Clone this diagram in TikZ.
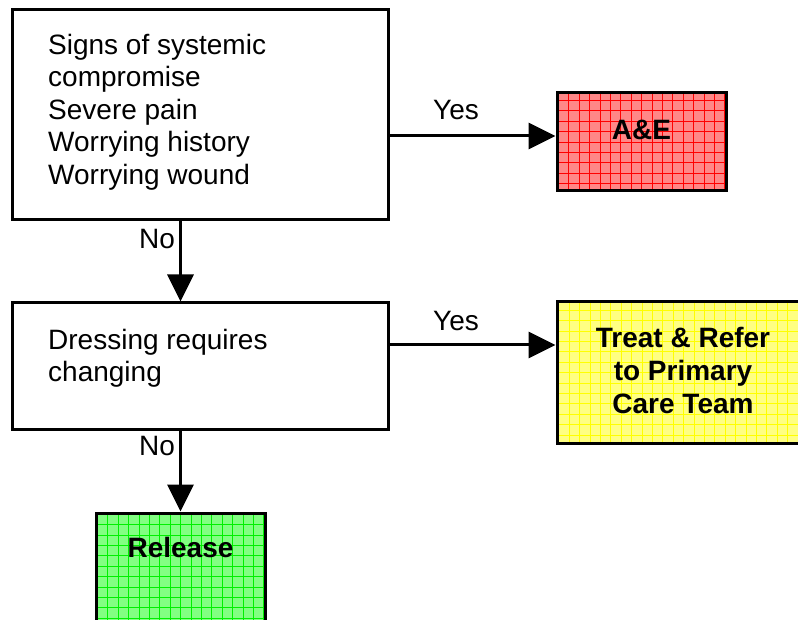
\documentclass[tikz,border=0pt]{standalone}
\usepackage{fontspec}
\setmainfont{Liberation Sans}
\usetikzlibrary{arrows.meta,calc}
\definecolor{aefill}{RGB}{255,135,135}
\definecolor{aegrid}{RGB}{255,0,0}
\definecolor{trfill}{RGB}{255,255,130}
\definecolor{trgrid}{RGB}{255,255,0}
\definecolor{relfill}{RGB}{130,255,130}
\definecolor{relgrid}{RGB}{0,240,0}
\begin{document}
\begin{tikzpicture}[x=1pt,y=-1pt,
  font=\fontsize{28}{32.5}\selectfont,
  plainbox/.style={draw=black,line width=3pt,inner sep=0pt,fill=white},
  gridbox/.style n args={2}{draw=black,line width=3pt,inner sep=0pt,fill=#1,
     path picture={\draw[#2,line width=0.7pt,step=10.4pt]
       ([xshift=-0.5pt,yshift=0.5pt]path picture bounding box.south west) grid
       (path picture bounding box.north east);}},
  txt/.style={inner sep=0pt,align=left,anchor=north west},
  btxt/.style={inner sep=0pt,align=center,font=\fontsize{28}{33}\selectfont\bfseries},
  lbl/.style={inner sep=0pt},
  arr/.style={line width=3pt,-{Triangle[length=27pt,width=26pt]}}]
\useasboundingbox (0,0) rectangle (798,620);
% boxes
\node[plainbox,minimum width=376pt,minimum height=210pt] (b1) at (200,115) {};
\node[plainbox,minimum width=376pt,minimum height=126pt] (b2) at (200,366) {};
\node[gridbox={aefill}{aegrid},minimum width=169pt,minimum height=98pt] (ae) at (641.5,142) {};
\node[gridbox={trfill}{trgrid},minimum width=253pt,minimum height=141pt] (tr) at (683.5,372.5) {};
\node[gridbox={relfill}{relgrid},minimum width=169pt,minimum height=127pt] (rel) at (180.5,576.5) {};
% texts
\node[txt] (t1) at (48,34) {Signs of systemic\\compromise\\Severe pain\\Worrying history\\Worrying wound};
\node[txt] (t2) at (48,329) {Dressing requires\\changing};
\node[btxt] (tae) at (641.5,130) {A\&E};
\node[btxt] (ttr) at (683,370) {Treat \& Refer\\to Primary\\Care Team};
\node[btxt] (trel) at (180.5,547) {Release};
% connectors
\coordinate (aein) at ([yshift=6pt]ae.west);
\coordinate (trin) at ([yshift=27.5pt]tr.west);
\draw[arr] (b1.east |- aein) -- (aein);
\draw[arr] (b2.east |- trin) -- (trin);
\draw[arr] (b1.south -| rel.north) -- (b2.north -| rel.north);
\draw[arr] (b2.south -| rel.north) -- (rel.north);
% labels
\node[lbl] (y1) at (456,110) {Yes};
\node[lbl] (y2) at (456,321) {Yes};
\node[lbl] (n1) at (157,239) {No};
\node[lbl] (n2) at (157,446) {No};
\end{tikzpicture}
\end{document}
